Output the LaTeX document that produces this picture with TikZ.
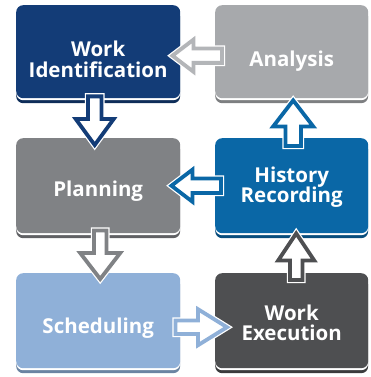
\documentclass[tikz,border=0pt]{standalone}
\usepackage{fontspec}
\newfontfamily\boxfont{Open Sans}
\usetikzlibrary{calc}
\definecolor{cWI}{HTML}{133C77}
\definecolor{cAN}{HTML}{A7A9AC}
\definecolor{cPL}{HTML}{808285}
\definecolor{cHR}{HTML}{0A67A6}
\definecolor{cSC}{HTML}{8FB0D8}
\definecolor{cWE}{HTML}{4E4F51}
\definecolor{cANa}{HTML}{B3B5B8}
% #1 start coord, #2 end coord, #3 colour, #4 shaft half width, #5 head half width, #6 head length
\newcommand{\blockarrow}[6]{%
  \coordinate (#1h) at ($(#2)!#6pt!(#1)$);
  \draw[arrowline=#3] ($(#1)!#4pt!90:(#2)$) -- ($(#1h)!#4pt!90:(#2)$) -- ($(#1h)!#5pt!90:(#2)$) -- (#2) -- ($(#1h)!#5pt!-90:(#2)$) -- ($(#1h)!#4pt!-90:(#2)$) -- ($(#1)!#4pt!-90:(#2)$) -- cycle;}
\begin{document}
\begin{tikzpicture}[x=1pt,y=-1pt,
  box/.style={rectangle, rounded corners=7pt, inner sep=0pt, anchor=north west, fill=#1,
    preaction={fill=#1!75!black, transform canvas={yshift=-5pt}},
    preaction={fill=white, transform canvas={yshift=-2pt}}},
  boxL/.style={box=#1, minimum width=164pt},
  boxR/.style={box=#1, minimum width=153pt},
  txt/.style={text=white, font=\boxfont\bfseries\fontsize{20.5}{20.5}\selectfont, align=center, inner sep=0pt},
  arrowline/.style={draw=#1, line width=3.8pt, fill=white, line join=miter,
    preaction={draw=white, line width=6.3pt}}]
\useasboundingbox (0,0) rectangle (371,377);
\node[boxL=cWI, minimum height=93pt, label={[txt, yshift=-7.5pt]center:Work\\Identification}] (wi) at (16,5) {};
\node[boxR=cAN, minimum height=93pt, label={[txt, yshift=-9.5pt]center:Analysis}] (an) at (215,5) {};
\node[boxL=cPL, minimum height=95pt, label={[txt, yshift=-5.5pt]center:Planning}] (pl) at (16,138) {};
\node[boxR=cHR, minimum height=95pt, label={[txt, yshift=-1.5pt]center:History\\Recording}] (hr) at (215,138) {};
\node[boxL=cSC, minimum height=95pt, label={[txt, yshift=-7.5pt]center:Scheduling}] (sc) at (16,273) {};
\node[boxR=cWE, minimum height=95pt, label={[txt, yshift=-2pt]center:Work\\Execution}] (we) at (215,273) {};
% arrow ends
\coordinate (a1s) at ($(an.west)+(7,4)$);
\coordinate (a1e) at ($(wi.east)+(-8,4)$);
\coordinate (a2s) at ($(wi.south)+(-3.5,-2)$);
\coordinate (a2e) at ($(pl.north)+(-3.5,7)$);
\coordinate (a3s) at ($(hr.north)+(1.5,8)$);
\coordinate (a3e) at ($(an.south)+(1.5,2)$);
\coordinate (a4s) at ($(hr.west)+(6,0)$);
\coordinate (a4e) at ($(pl.east)+(-9,0)$);
\coordinate (a5s) at ($(pl.south)+(2,-3)$);
\coordinate (a5e) at ($(sc.north)+(2,6)$);
\coordinate (a6s) at ($(sc.east)+(-5,6.5)$);
\coordinate (a6e) at ($(we.west)+(12,6.5)$);
\coordinate (a7s) at ($(we.north)+(4.5,7)$);
\coordinate (a7e) at ($(hr.south)+(4.5,0)$);
\blockarrow{a1s}{a1e}{cANa}{7.2}{16}{21}
\blockarrow{a2s}{a2e}{cWI}{6.8}{19}{26}
\blockarrow{a3s}{a3e}{cHR}{7.7}{20}{26}
\blockarrow{a4s}{a4e}{cHR}{7.2}{16}{21}
\blockarrow{a5s}{a5e}{cPL}{6.3}{20}{26}
\blockarrow{a6s}{a6e}{cSC}{6.8}{18}{29}
\blockarrow{a7s}{a7e}{cWE}{6.3}{18}{27}
\end{tikzpicture}
\end{document}
